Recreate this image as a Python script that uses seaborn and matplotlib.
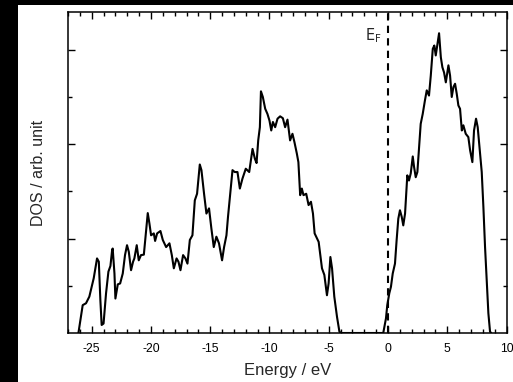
import numpy as np
import pandas as pd
import matplotlib
matplotlib.use('Agg')
import matplotlib.pyplot as plt
import seaborn as sns

# DOS curve (energy in eV, DOS in arb. unit)
energy = [-26.12, -25.76, -25.48, -25.2, -24.83, -24.55, -24.4, -24.27, -24.16, -24.0,
          -23.79, -23.59, -23.42, -23.28, -23.23, -23.08, -23.0, -22.8, -22.6, -22.38,
          -22.19, -22.02, -21.87, -21.68, -21.51, -21.4, -21.2, -21.03, -20.84, -20.6,
          -20.41, -20.27, -20.13, -19.99, -19.76, -19.65, -19.48, -19.2, -19.0, -18.72,
          -18.44, -18.24, -18.07, -17.84, -17.68, -17.51, -17.29, -17.09, -16.92, -16.72,
          -16.5, -16.3, -16.11, -15.88, -15.74, -15.52, -15.32, -15.1, -14.9, -14.7,
          -14.48, -14.26, -14.0, -13.83, -13.63, -13.5, -13.29, -13.12, -12.93, -12.7,
          -12.5, -12.28, -12.0, -11.71, -11.43, -11.23, -11.09, -10.95, -10.81, -10.72,
          -10.56, -10.36, -10.17, -10.0, -9.85, -9.71, -9.52, -9.32, -9.1, -8.87,
          -8.68, -8.48, -8.26, -8.06, -7.89, -7.69, -7.56, -7.41, -7.27, -7.13,
          -6.9, -6.7, -6.5, -6.33, -6.19, -5.85, -5.57, -5.37, -5.15, -5.01,
          -4.86, -4.72, -4.53, -4.3, -4.1, -3.97, -0.4, -0.17, -0.06, 0.11,
          0.25, 0.4, 0.59, 0.73, 0.87, 1.01, 1.16, 1.29, 1.44, 1.63,
          1.77, 1.92, 2.09, 2.2, 2.34, 2.48, 2.64, 2.76, 2.93, 3.12,
          3.27, 3.46, 3.61, 3.78, 3.91, 4.03, 4.17, 4.31, 4.46, 4.59,
          4.73, 4.88, 5.1, 5.24, 5.38, 5.52, 5.66, 5.8, 5.94, 6.08,
          6.23, 6.36, 6.56, 6.78, 6.93, 7.12, 7.26, 7.43, 7.57, 7.77,
          7.91, 8.05, 8.19, 8.34, 8.47, 8.61, 8.7]
dos = [0.0, 0.59, 0.63, 0.77, 1.16, 1.58, 1.51, 0.7, 0.17, 0.2,
       0.84, 1.3, 1.42, 1.75, 1.79, 1.26, 0.73, 1.03, 1.05, 1.26,
       1.65, 1.86, 1.72, 1.33, 1.51, 1.58, 1.86, 1.54, 1.65, 1.66,
       2.18, 2.54, 2.32, 2.07, 2.11, 1.95, 2.11, 2.16, 1.97, 1.82,
       1.9, 1.65, 1.37, 1.58, 1.51, 1.33, 1.65, 1.58, 1.47, 1.97,
       2.07, 2.81, 2.95, 3.57, 3.45, 2.95, 2.53, 2.64, 2.21, 1.82,
       2.04, 1.9, 1.54, 1.82, 2.07, 2.46, 3.02, 3.45, 3.41, 3.41,
       3.06, 3.27, 3.48, 3.41, 3.9, 3.69, 3.6, 4.08, 4.36, 5.12,
       5.0, 4.75, 4.64, 4.5, 4.29, 4.47, 4.36, 4.54, 4.59, 4.55,
       4.36, 4.52, 4.08, 4.22, 4.04, 3.8, 3.62, 2.92, 3.06, 2.92,
       2.95, 2.71, 2.78, 2.53, 2.11, 1.93, 1.37, 1.23, 0.8, 1.05,
       1.61, 1.37, 0.77, 0.34, 0.03, 0.0, 0.0, 0.31, 0.59, 0.84,
       0.98, 1.26, 1.47, 1.97, 2.42, 2.6, 2.46, 2.28, 2.53, 3.34,
       3.23, 3.38, 3.74, 3.52, 3.3, 3.41, 4.01, 4.43, 4.64, 4.93,
       5.14, 5.03, 5.45, 6.02, 6.09, 5.88, 6.12, 6.35, 5.84, 5.63,
       5.52, 5.31, 5.67, 5.45, 5.0, 5.21, 5.28, 5.07, 4.82, 4.75,
       4.29, 4.4, 4.22, 4.15, 3.87, 3.62, 4.29, 4.54, 4.36, 3.8,
       3.41, 2.67, 1.82, 1.05, 0.42, 0.03, 0.0]

x_ticks = [-25, -20, -15, -10, -5, 0, 5, 10]
fermi_level = 0.0

df = pd.DataFrame({'Energy': energy, 'DOS': dos})

sns.set_style('ticks')
plt.rcParams['font.family'] = ['Liberation Sans', 'DejaVu Sans']
plt.rcParams['axes.unicode_minus'] = False

fig = plt.figure(figsize=(5.13, 3.82), dpi=100)
fig.patch.set_facecolor('black')
# white panel (the picture has a black border on the top and left)
fig.add_artist(plt.Rectangle((18 / 513, 0), 1 - 18 / 513, (382 - 5) / 382,
                             transform=fig.transFigure, facecolor='white',
                             edgecolor='none', zorder=0))
ax = fig.add_axes([68 / 513, 49 / 382, (506.5 - 68) / 513, (333 - 12) / 382])
ax.set_facecolor('white')

sns.lineplot(data=df, x='Energy', y='DOS', sort=False, estimator=None,
             color='black', linewidth=1.5, ax=ax)
ax.axvline(fermi_level, color='black', linewidth=1.5, linestyle=(0, (3.5, 2.5)))
ax.text(-1.2, 6.3, r'$\mathrm{E_F}$', fontsize=10.5, ha='center', va='center')

ax.set_xlim(-27, 10)
ax.set_ylim(0, 6.8)
ax.set_xticks(x_ticks)
ax.set_xticks(np.arange(-27, 11, 1), minor=True)
ax.set_yticks([2, 4, 6])
ax.set_yticks([1, 3, 5], minor=True)
ax.tick_params(which='both', direction='in', top=True, right=True,
               colors='black', labelsize=8.8, width=1, pad=7)
ax.tick_params(which='major', length=5)
ax.tick_params(which='minor', length=2.6)
ax.tick_params(axis='y', labelleft=False)
for s in ax.spines.values():
    s.set_linewidth(1.1)
    s.set_color('black')

ax.set_xlabel('Energy / eV', fontsize=12, labelpad=6)
ax.set_ylabel('DOS / arb. unit', fontsize=11.5, labelpad=9)

fig.savefig('out.png', dpi=100, facecolor=fig.get_facecolor())
